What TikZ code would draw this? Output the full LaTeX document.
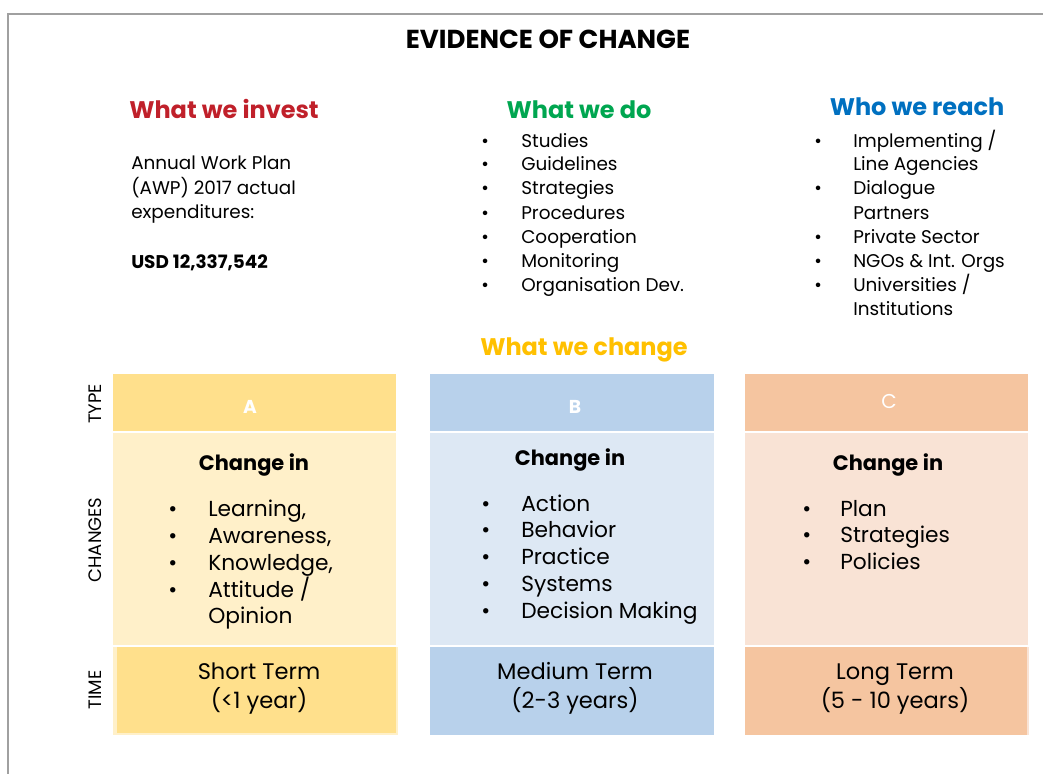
\documentclass[tikz,border=0pt]{standalone}
\usepackage{fontspec}
\setmainfont{Poppins}
\usepackage{xcolor}
\usepackage{tikz}
\usetikzlibrary{positioning}

\definecolor{investred}{RGB}{192,32,42}
\definecolor{dogreen}{RGB}{0,166,80}
\definecolor{reachblue}{RGB}{0,112,192}
\definecolor{changegold}{RGB}{255,192,0}
\definecolor{goldtype}{RGB}{255,224,140}
\definecolor{goldlight}{RGB}{255,240,201}
\definecolor{bluetype}{RGB}{184,209,235}
\definecolor{bluelight}{RGB}{221,232,244}
\definecolor{peachtype}{RGB}{245,197,160}
\definecolor{peachlight}{RGB}{249,227,213}
\definecolor{framegray}{RGB}{160,160,160}

\tikzset{
  heading/.style={anchor=base, font=\fontsize{18}{20}\selectfont\bfseries},
  bodytext/.style={anchor=base west, inner sep=0pt, font=\fontsize{13.8}{18}\selectfont},
  boxtext/.style={anchor=base west, inner sep=0pt, font=\fontsize{16.3}{20}\selectfont},
  sidelabel/.style={rotate=90, font=\fontsize{13.5}{15}\selectfont},
  letter/.style={anchor=base, text=white, font=\fontsize{14}{16}\selectfont\bfseries},
  changein/.style={anchor=base, font=\fontsize{15.7}{18}\selectfont\bfseries},
  termtext/.style={anchor=base, font=\fontsize{16.9}{20}\selectfont}
}

\begin{document}
\begin{tikzpicture}[x=0.75pt, y=-0.75pt]
\useasboundingbox (0,0) rectangle (1043,774);

% frame
\draw[framegray, line width=1.5pt] (8,774) -- (8,14) -- (1043,14);

\node[anchor=base, font=\fontsize{19.5}{22}\selectfont\bfseries] (title) at (548,49) {EVIDENCE OF CHANGE};

% headings
\node[heading, text=investred] (invest) at (224,118) {What we invest};
\node[heading, text=dogreen] (do) at (579,118) {What we do};
\node[heading, text=reachblue] (reach) at (917,116) {Who we reach};
\node[heading, text=changegold] (change) at (584,355) {What we change};

% what we invest
\node[bodytext] (awp1) at (131,170) {Annual Work Plan};
\node[bodytext] (awp2) at (131,194) {(AWP) 2017 actual};
\node[bodytext] (awp3) at (131,218) {expenditures:};
\node[bodytext, font=\fontsize{13.8}{18}\selectfont\bfseries] (usd) at (131,268) {USD 12,337,542};

% what we do
\foreach \txt [count=\i] in {Studies, Guidelines, Strategies, Procedures, Cooperation, Monitoring, Organisation Dev.} {
  \node[bodytext] (dob\i) at (481,123+24*\i) {\textbullet};
  \node[bodytext] (do\i) at (521,123+24*\i) {\txt};
}

% who we reach
\node[bodytext] (rb1) at (814,147) {\textbullet};
\node[bodytext] (r1) at (853,147) {Implementing /};
\node[bodytext] (r2) at (853,171) {Line Agencies};
\node[bodytext] (rb3) at (814,195) {\textbullet};
\node[bodytext] (r3) at (853,195) {Dialogue};
\node[bodytext] (r4) at (853,219) {Partners};
\node[bodytext] (rb5) at (814,243) {\textbullet};
\node[bodytext] (r5) at (853,243) {Private Sector};
\node[bodytext] (rb6) at (814,267) {\textbullet};
\node[bodytext] (r6) at (853,267) {NGOs \& Int. Orgs};
\node[bodytext] (rb7) at (814,291) {\textbullet};
\node[bodytext] (r7) at (853,291) {Universities /};
\node[bodytext] (r8) at (853,315) {Institutions};

% side labels
\node[sidelabel] (type) at (95,404) {TYPE};
\node[sidelabel] (changes) at (95,540) {CHANGES};
\node[sidelabel] (time) at (95,690) {TIME};

% column A
\fill[goldtype] (113,374) rectangle (396,431);
\fill[goldlight] (113,433) rectangle (396,645);
\fill[goldlight] (113,647) rectangle (398,735);
\fill[goldtype] (117,647) rectangle (396,733);
% column B
\fill[bluetype] (430,374) rectangle (714,431);
\fill[bluelight] (430,433) rectangle (714,645);
\fill[bluetype] (430,647) rectangle (714,735);
% column C
\fill[peachtype] (745,374) rectangle (1028,431);
\fill[peachlight] (745,433) rectangle (1028,645);
\fill[peachlight] (745,647) rectangle (1029,735);
\fill[peachtype] (745,647) rectangle (1027,735);

\node[letter] (typeA) at (250,413) {A};
\node[letter] (typeB) at (575,413) {B};
\node[letter, font=\fontsize{15}{16}\selectfont] (typeC) at (889,408) {C};

\node[changein] (inA) at (254,470) {Change in};
\node[changein] (inB) at (570,465) {Change in};
\node[changein] (inC) at (888,470) {Change in};

% changes A
\node[boxtext] (ab1) at (168,516) {\textbullet};
\node[boxtext] (a1) at (208,516) {Learning,};
\node[boxtext] (ab2) at (168,543) {\textbullet};
\node[boxtext] (a2) at (208,543) {Awareness,};
\node[boxtext] (ab3) at (168,570) {\textbullet};
\node[boxtext] (a3) at (208,570) {Knowledge,};
\node[boxtext] (ab4) at (168,597) {\textbullet};
\node[boxtext] (a4) at (208,597) {Attitude /};
\node[boxtext] (a5) at (208,623) {Opinion};

% changes B
\foreach \txt [count=\i] in {Action, Behavior, Practice, Systems, Decision Making} {
  \node[boxtext] (bb\i) at (481,484.5+26.7*\i) {\textbullet};
  \node[boxtext] (b\i) at (521,484.5+26.7*\i) {\txt};
}

% changes C
\foreach \txt [count=\i] in {Plan, Strategies, Policies} {
  \node[boxtext] (cb\i) at (802,489.5+26.7*\i) {\textbullet};
  \node[boxtext] (c\i) at (840,489.5+26.7*\i) {\txt};
}

% time
\node[termtext] (shortA) at (259,679) {Short Term};
\node[termtext] (shortB) at (259,708) {(<1 year)};
\node[termtext] (medA) at (575,679) {Medium Term};
\node[termtext] (medB) at (575,708) {(2-3 years)};
\node[termtext] (longA) at (895,679) {Long Term};
\node[termtext] (longB) at (895,708) {(5 - 10 years)};
\end{tikzpicture}
\end{document}
